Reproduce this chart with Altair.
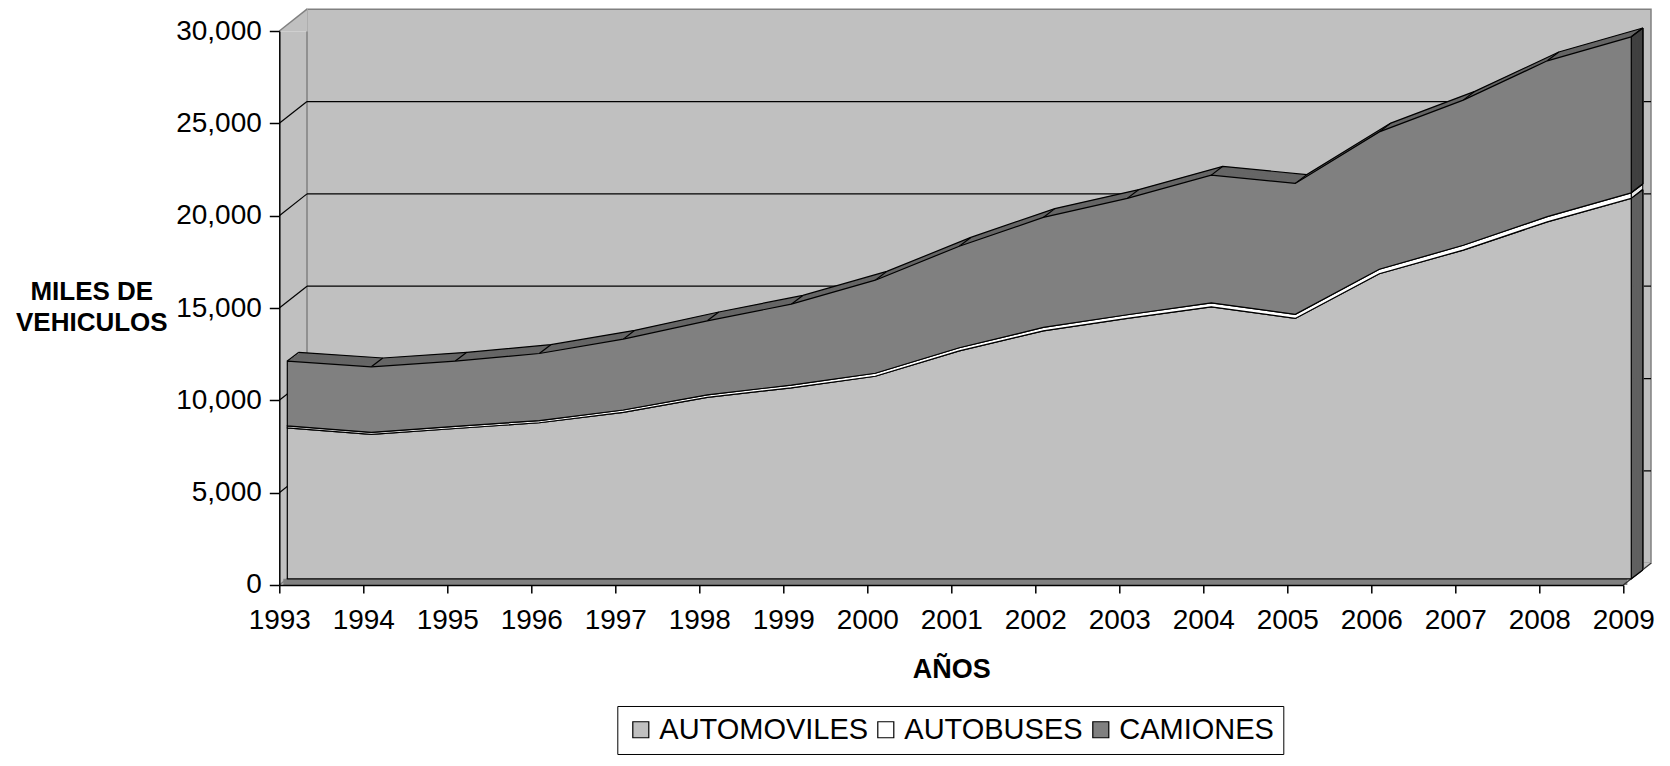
import altair as alt
import pandas as pd

# ---------------- data (miles de vehículos) ----------------
years = list(range(1993, 2010))
automoviles = [8170, 7820, 8140, 8450, 9010, 9820, 10340, 10970, 12340,
               13430, 14100, 14730, 14100, 16520, 17800, 19330, 20600]
autobuses = [110, 110, 115, 120, 130, 140, 150, 160, 170,
             185, 200, 215, 225, 245, 260, 280, 300]
camiones = [3510, 3550, 3535, 3630, 3840, 4010, 4380, 5040, 5500,
            5955, 6300, 6915, 7085, 7435, 7860, 8440, 8450]
series_names = ["AUTOMOVILES", "AUTOBUSES", "CAMIONES"]
front_colors = ["#C0C0C0", "#FFFFFF", "#808080"]
side_colors = ["#606060", "#E8E8E8", "#404040"]
y_ticks = [0, 5000, 10000, 15000, 20000, 25000, 30000]

# ---------------- style / geometry ----------------
FONT = "Liberation Sans"
W, H = 1344, 554
WALL_DX, WALL_DY = 27.7, -21.8      # depth of the 3D box (px)
F0 = (8.0, -6.2)                    # front face of the area solid
F1 = (19.5, -15.0)                  # back face of the area solid
N_SWEEP = 8
LINE_W = 1.2

rows = []
for i, yr in enumerate(years):
    base = 0
    for name, vals, sc in zip(series_names, [automoviles, autobuses, camiones], side_colors):
        top = base + vals[i]
        rows.append({"year": yr, "serie": name, "y0": base, "y1": top, "side": sc})
        base = top
df = pd.DataFrame(rows)
cam_df = df[df["serie"] == "CAMIONES"]
last_df = df[df["year"] == years[-1]]
last_cam = cam_df[cam_df["year"] == years[-1]]

wall_df = pd.DataFrame({"x0": [years[0]], "x1": [years[-1]],
                        "v0": [y_ticks[0]], "v1": [y_ticks[-1]]})
grid_df = pd.DataFrame({"level": y_ticks[1:-1], "x0": years[0], "x1": years[-1]})
edge_df = pd.DataFrame({"level": [y_ticks[0], y_ticks[-1]], "x0": years[0]})

xs = alt.Scale(domain=[years[0], years[-1]], nice=False, zero=False)
ys = alt.Scale(domain=[y_ticks[0], y_ticks[-1]], nice=False)

xaxis = alt.Axis(values=years, format="d", tickSize=8, tickWidth=1.5, tickColor="black",
                 domainColor="black", domainWidth=1.5, grid=False, labelFlush=False,
                 labelOverlap=False, labelFont=FONT, labelFontSize=28, labelColor="black",
                 labelBaseline="alphabetic", labelPadding=36,
                 title="AÑOS", titleFont=FONT, titleFontSize=27, titleFontWeight="bold",
                 titleColor="black", titleX=W / 2, titleY=93, titleAlign="center",
                 titleBaseline="alphabetic", zindex=1)
yaxis = alt.Axis(values=y_ticks, format=",d", tickSize=10, tickWidth=1.5, tickColor="black",
                 domainColor="black", domainWidth=1.5, grid=False, labelFlush=False,
                 labelFont=FONT, labelFontSize=28, labelColor="black", labelPadding=8,
                 title=["MILES DE", "VEHICULOS"], titleFont=FONT, titleFontSize=26,
                 titleFontWeight="bold", titleColor="black", titleAngle=0,
                 titleX=-188, titleY=260, titleAlign="center", titleBaseline="middle",
                 titleLineHeight=32, zindex=1)


def X(field):
    return alt.X(field, type="quantitative", scale=xs, axis=xaxis)


def Y(field):
    return alt.Y(field, type="quantitative", scale=ys, axis=yaxis, stack=None)


layers = []

# back wall
layers.append(alt.Chart(wall_df).mark_rect(
    fill="#C0C0C0", stroke="#808080", strokeWidth=1.5,
    xOffset=WALL_DX, x2Offset=WALL_DX, yOffset=WALL_DY, y2Offset=WALL_DY
).encode(x=X("x0"), x2="x1", y=Y("v0"), y2="v1"))

# top-left corner of the left wall
layers.append(alt.Chart(wall_df).mark_point(
    shape="M -1 0.79 L 1 -0.79 L 1 0.79 Z", filled=True, color="#C0C0C0",
    opacity=1, strokeWidth=0, size=29 * 29, xOffset=WALL_DX / 2, yOffset=WALL_DY / 2
).encode(x=X("x0"), y=Y("v1")))

# bottom-right corner of the floor
layers.append(alt.Chart(wall_df).mark_point(
    shape="M -1 0.79 L 1 -0.79 L -1 -0.79 Z", filled=True, color="#C0C0C0",
    opacity=1, strokeWidth=0, size=29 * 29, xOffset=WALL_DX / 2, yOffset=WALL_DY / 2
).encode(x=X("x1"), y=Y("v0")))

# gridlines on the back wall
layers.append(alt.Chart(grid_df).mark_rule(
    color="black", strokeWidth=LINE_W, xOffset=WALL_DX, x2Offset=WALL_DX, yOffset=WALL_DY
).encode(x=X("x0"), x2="x1", y=Y("level")))

# gridlines on the left wall (diagonals)
layers.append(alt.Chart(grid_df).mark_rule(
    color="black", strokeWidth=LINE_W, x2Offset=WALL_DX, y2Offset=WALL_DY
).encode(x=X("x0"), x2="x0", y=Y("level"), y2="level"))

# floor strip in front of the areas
layers.append(alt.Chart(wall_df).mark_rule(
    color="#808080", strokeWidth=-F0[1], xOffset=F0[0] / 2, x2Offset=F0[0] / 2,
    yOffset=F0[1] / 2
).encode(x=X("x0"), x2="x1", y=Y("v0")))

# wall edges (top and bottom diagonals of the left wall)
layers.append(alt.Chart(edge_df).mark_rule(
    color="#808080", strokeWidth=1.5, x2Offset=WALL_DX, y2Offset=WALL_DY
).encode(x=X("x0"), x2="x0", y=Y("level"), y2="level"))

# right diagonal of the floor
layers.append(alt.Chart(wall_df).mark_rule(
    color="#303030", strokeWidth=LINE_W, x2Offset=WALL_DX, y2Offset=WALL_DY
).encode(x=X("x1"), x2="x1", y=Y("v0"), y2="v0"))

# top face of CAMIONES (swept copies)
for k in range(N_SWEEP, 0, -1):
    t = k / N_SWEEP
    ox = F0[0] + t * (F1[0] - F0[0])
    oy = F0[1] + t * (F1[1] - F0[1])
    layers.append(alt.Chart(cam_df).mark_area(
        color="#666666", opacity=1, strokeWidth=0, xOffset=ox, yOffset=oy, y2Offset=oy
    ).encode(x=X("year"), y=Y("y1"), y2="y0"))

# back edge of the top face
layers.append(alt.Chart(cam_df).mark_line(
    color="black", strokeWidth=LINE_W, xOffset=F1[0], yOffset=F1[1]
).encode(x=X("year"), y=Y("y1")))

# right side faces (swept rules)
for k in range(N_SWEEP, -1, -1):
    t = k / N_SWEEP
    ox = F0[0] + t * (F1[0] - F0[0])
    oy = F0[1] + t * (F1[1] - F0[1])
    layers.append(alt.Chart(last_df).mark_rule(
        strokeWidth=2.2, xOffset=ox, yOffset=oy, y2Offset=oy
    ).encode(x=X("year"), y=Y("y0"), y2="y1", color=alt.Color("side:N", scale=None)))

# right face back edge
layers.append(alt.Chart(last_cam).mark_rule(
    color="black", strokeWidth=LINE_W, xOffset=F1[0], yOffset=F1[1], y2Offset=F1[1]
).encode(x=X("year"), y=Y("y1"), y2=alt.datum(0)))

# connectors between front and back vertices
layers.append(alt.Chart(cam_df).mark_rule(
    color="black", strokeWidth=LINE_W, xOffset=F0[0], yOffset=F0[1],
    x2Offset=F1[0], y2Offset=F1[1]
).encode(x=X("year"), x2="year", y=Y("y1"), y2="y1"))
layers.append(alt.Chart(last_df).mark_rule(
    color="black", strokeWidth=LINE_W, xOffset=F0[0], yOffset=F0[1],
    x2Offset=F1[0], y2Offset=F1[1]
).encode(x=X("year"), x2="year", y=Y("y1"), y2="y1"))
layers.append(alt.Chart(last_df).mark_rule(
    color="black", strokeWidth=LINE_W, xOffset=F0[0], yOffset=F0[1],
    x2Offset=F1[0], y2Offset=F1[1]
).encode(x=X("year"), x2="year", y=Y("y0"), y2="y0"))

# front faces with legend
layers.append(alt.Chart(df).mark_area(
    stroke="black", strokeWidth=LINE_W, opacity=1, fillOpacity=1,
    xOffset=F0[0], yOffset=F0[1], y2Offset=F0[1]
).encode(
    x=X("year"), y=Y("y1"), y2="y0",
    fill=alt.Fill("serie:N", sort=series_names,
                  scale=alt.Scale(domain=series_names, range=front_colors),
                  legend=alt.Legend(orient="none", legendX=338, legendY=675,
                                    direction="horizontal", title=None,
                                    strokeColor="black", fillColor="white", padding=9,
                                    symbolType="square", symbolSize=256,
                                    symbolStrokeColor="black", symbolStrokeWidth=1.2,
                                    symbolOpacity=1, labelFont=FONT, labelFontSize=29,
                                    labelColor="black", labelOffset=4, columnPadding=3,
                                    labelLimit=0)),
))

chart = alt.layer(*layers).properties(
    width=W, height=H,
    autosize=alt.AutoSizeParams(type="none"),
    padding={"left": 271.3, "top": 23, "right": 36, "bottom": 173},
    background="white",
).configure_view(fill="#C0C0C0", stroke="transparent")

chart.save("out.html", embed_options={"renderer": "svg", "actions": False})
